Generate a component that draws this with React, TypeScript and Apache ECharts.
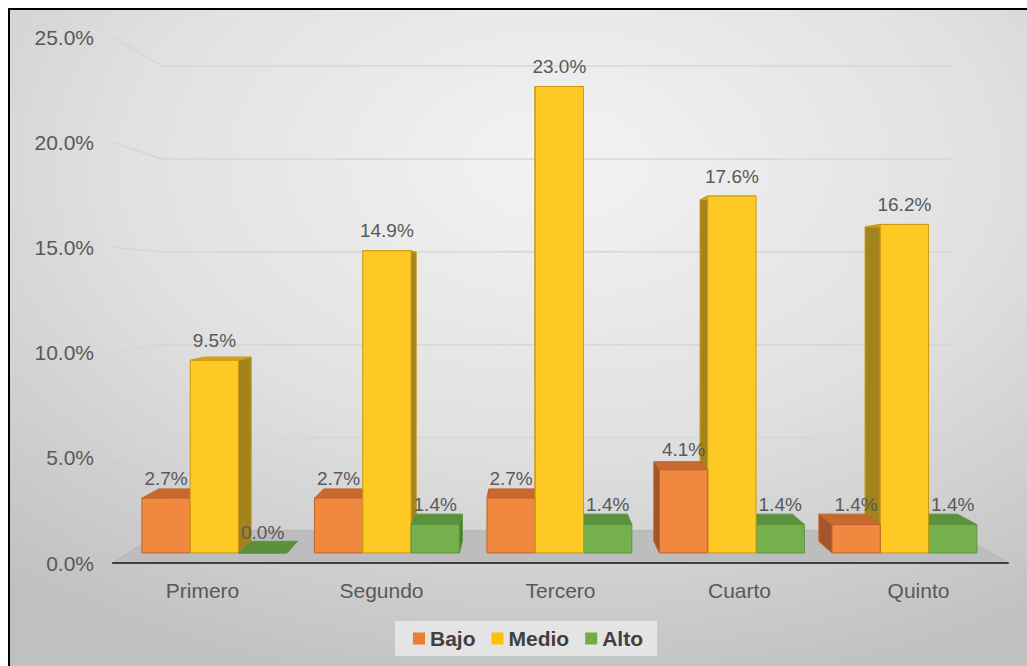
import React, { useEffect, useRef } from "react";
import * as echarts from "echarts";

const categories = ["Primero", "Segundo", "Tercero", "Cuarto", "Quinto"];
const seriesNames = ["Bajo", "Medio", "Alto"];
const bajo = [2.7, 2.7, 2.7, 4.1, 1.4];
const medio = [9.5, 14.9, 23.0, 17.6, 16.2];
const alto = [0.0, 1.4, 1.4, 1.4, 1.4];
const yTicks = [0, 5, 10, 15, 20, 25];

// perspective helpers (pixel-space styling, not data)
const VP = [530, 285];
const K = 0.117;
const D1 = 0.31;
const D2 = 0.667;
const proj = (x: number, y: number, d: number) => {
  const s = 1 - K * d;
  return [VP[0] + (x - VP[0]) * s, VP[1] + (y - VP[1]) * s];
};

const palette = [
  { legend: "#ED7D31", front: "#F0883F", top: "#C9682F", side: "#A5552A", stroke: "#C0642A" },
  { legend: "#FFC000", front: "#FFC925", top: "#D9A516", side: "#A2831C", stroke: "#C99A10" },
  { legend: "#70AD47", front: "#74B04C", top: "#5A913A", side: "#4B7A31", stroke: "#5C9440" },
];

const font = '"Liberation Sans", Arial, sans-serif';

export default function App() {
  const ref = useRef<HTMLDivElement>(null);
  useEffect(() => {
    if (!ref.current) return;
    const chart = echarts.init(ref.current, null, { renderer: "svg" });

    const makeBarSeries = (si: number, values: number[]) => ({
      type: "custom",
      name: seriesNames[si],
      itemStyle: { color: palette[si].legend },
      data: values.map((v, i) => [i, v]),
      encode: { x: 0, y: 1 },
      z: 2,
      renderItem: (params: any, api: any) => {
        const ci = api.value(0);
        const v = api.value(1);
        const base = api.coord([ci, 0]);
        const top = api.coord([ci, v]);
        const band = api.size([1, 0])[0];
        const bw = band * 0.28;
        const cx = base[0] + (si - 1) * bw;
        const x0 = cx - bw / 2;
        const x1 = cx + bw / 2;
        const yb = base[1];
        const yt = top[1];
        const ftl = proj(x0, yt, D1), ftr = proj(x1, yt, D1), fbr = proj(x1, yb, D1), fbl = proj(x0, yb, D1);
        const btl = proj(x0, yt, D2), btr = proj(x1, yt, D2), bbr = proj(x1, yb, D2), bbl = proj(x0, yb, D2);
        const fc = proj(cx, yt, D1);
        const leftOfVp = fc[0] < VP[0];
        const zb = (leftOfVp ? si : 2 - si) * 10;
        const c = palette[si];
        const sidePts = leftOfVp ? [ftr, btr, bbr, fbr] : [ftl, btl, bbl, fbl];
        const children: any[] = [
          { type: "polygon", z2: zb + 1, shape: { points: sidePts }, style: { fill: c.side, stroke: c.stroke, lineWidth: 1 } },
          { type: "polygon", z2: zb + 2, shape: { points: [ftl, ftr, btr, btl] }, style: { fill: c.top, stroke: c.stroke, lineWidth: 1 } },
          { type: "polygon", z2: zb + 3, shape: { points: [ftl, ftr, fbr, fbl] }, style: { fill: c.front, stroke: c.stroke, lineWidth: 1 } },
          {
            type: "text",
            z2: 100,
            x: fc[0],
            y: fc[1] - 20,
            style: {
              text: v.toFixed(1) + "%",
              fill: "#595959",
              fontSize: 19,
              fontFamily: font,
              align: "center",
              verticalAlign: "middle",
            },
          },
        ];
        return { type: "group", children };
      },
    });

    const option: any = {
      animation: false,
      backgroundColor: "#ffffff",
      graphic: [
        {
          type: "rect",
          z: -10,
          silent: true,
          shape: { x: 9, y: 9, width: 1100, height: 700 },
          style: {
            fill: new echarts.graphic.RadialGradient(0.5, 0.22, 0.78, [
              { offset: 0, color: "#f3f3f3" },
              { offset: 0.5, color: "#e1e1e1" },
              { offset: 1, color: "#c0c0c0" },
            ]),
            stroke: "#000000",
            lineWidth: 2,
          },
        },
      ],
      grid: { left: 113, right: 19, top: 37, bottom: 103, containLabel: false },
      xAxis: {
        type: "category",
        data: categories,
        axisLine: { show: true, lineStyle: { color: "#404040", width: 2 } },
        axisTick: { show: false },
        axisLabel: { color: "#595959", fontSize: 21, fontFamily: font, margin: 17 },
        z: 5,
      },
      yAxis: {
        type: "value",
        min: 0,
        max: 25,
        interval: 5,
        axisLine: { show: false },
        axisTick: { show: false },
        splitLine: { show: false },
        axisLabel: {
          color: "#595959",
          fontSize: 21,
          fontFamily: font,
          margin: 19,
          formatter: (v: number) => v.toFixed(1) + "%",
        },
      },
      legend: {
        data: seriesNames.map((n) => ({ name: n, icon: "rect" })),
        left: 395,
        top: 621,
        backgroundColor: "#e4e4e4",
        padding: [7, 14, 7, 18],
        itemWidth: 12,
        itemHeight: 12,
        itemGap: 16,
        textStyle: { color: "#404040", fontSize: 21, fontWeight: "bold", fontFamily: font },
      },
      series: [
        {
          type: "custom",
          name: "walls",
          silent: true,
          z: 1,
          data: yTicks.map((t) => [0, t]),
          encode: { x: 0, y: 1 },
          renderItem: (params: any, api: any) => {
            const cs = params.coordSys;
            const left = cs.x;
            const right = cs.x + cs.width;
            const y = api.coord([0, api.value(1)])[1];
            const bl = proj(left, y, 1);
            const br = proj(right, y, 1);
            if (api.value(1) === 0) {
              return {
                type: "polygon",
                shape: { points: [[left, y], [right, y], br, bl] },
                style: { fill: "#bdbdbd", stroke: "#b5b5b5", lineWidth: 1 },
              };
            }
            return {
              type: "polyline",
              shape: { points: [[left, y], bl, br] },
              style: { stroke: "#d6d6d6", lineWidth: 1.5, fill: "none" },
            };
          },
        },
        makeBarSeries(0, bajo),
        makeBarSeries(1, medio),
        makeBarSeries(2, alto),
      ],
    };
    chart.setOption(option);
    return () => chart.dispose();
  }, []);
  return <div ref={ref} style={{ position: "fixed", left: 0, top: 0, width: 1027, height: 666 }} />;
}
